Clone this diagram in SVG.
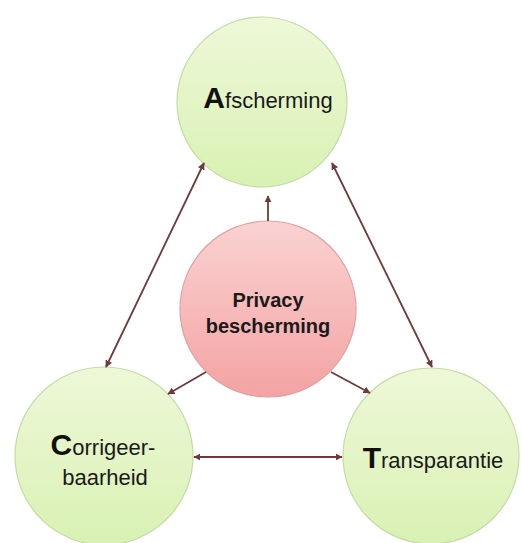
<svg xmlns="http://www.w3.org/2000/svg" width="521" height="543" viewBox="0 0 521 543">
<defs>
<linearGradient id="gG" x1="0" y1="0" x2="0" y2="1">
<stop offset="0" stop-color="#eef8d9"/>
<stop offset="1" stop-color="#d9f1b3"/>
</linearGradient>
<linearGradient id="gP" x1="0" y1="0" x2="0" y2="1">
<stop offset="0" stop-color="#fad2d2"/>
<stop offset="1" stop-color="#f4a3a3"/>
</linearGradient>
<marker id="ah" viewBox="0 0 10 10" refX="9" refY="5" markerWidth="4" markerHeight="4" orient="auto-start-reverse" markerUnits="strokeWidth">
<path d="M0,0 L10,5 L0,10 z" fill="#6e3a3a"/>
</marker>
<style>
.g{fill:url(#gG);stroke:#c3dca3;stroke-width:1.2}
.p{fill:url(#gP);stroke:#e2a0a0;stroke-width:1.2}
.c{stroke:#6e3a3a;stroke-width:1.8;fill:none}
.t{font-family:"Liberation Sans",Arial,sans-serif;font-size:22px;fill:#1a1a1a;text-anchor:middle}
.b{font-weight:bold;font-size:30px;fill:#111}
.pt{font-family:"Liberation Sans",Arial,sans-serif;font-size:20px;font-weight:bold;fill:#1a1a1a;text-anchor:middle}
</style>
</defs>
<g id="n-afscherming">
<circle class="g" cx="262" cy="102" r="85"/>
<text class="t" x="268" y="108"><tspan class="b">A</tspan>fscherming</text>
</g>
<g id="n-privacy">
<circle class="p" cx="268" cy="309" r="88"/>
<text class="pt" x="268" y="307">Privacy</text>
<text class="pt" x="268" y="333">bescherming</text>
</g>
<g id="n-corrigeer">
<circle class="g" cx="104" cy="456" r="89"/>
<text class="t" x="103" y="455"><tspan class="b">C</tspan>orrigeer-</text>
<text class="t" x="105" y="485">baarheid</text>
</g>
<g id="n-transparantie">
<circle class="g" cx="431" cy="456" r="88"/>
<text class="t" x="433" y="468"><tspan class="b">T</tspan>ransparantie</text>
</g>
<g id="connectors">
<line class="c" x1="268" y1="221" x2="268" y2="196" marker-end="url(#ah)"/>
<line class="c" x1="206" y1="372" x2="168" y2="394" marker-end="url(#ah)"/>
<line class="c" x1="331" y1="372" x2="370" y2="393" marker-end="url(#ah)"/>
<line class="c" x1="204" y1="163" x2="106" y2="367" marker-start="url(#ah)" marker-end="url(#ah)"/>
<line class="c" x1="332" y1="163" x2="432" y2="367" marker-start="url(#ah)" marker-end="url(#ah)"/>
<line class="c" x1="194" y1="457" x2="342" y2="457" marker-start="url(#ah)" marker-end="url(#ah)"/>
</g>
</svg>
